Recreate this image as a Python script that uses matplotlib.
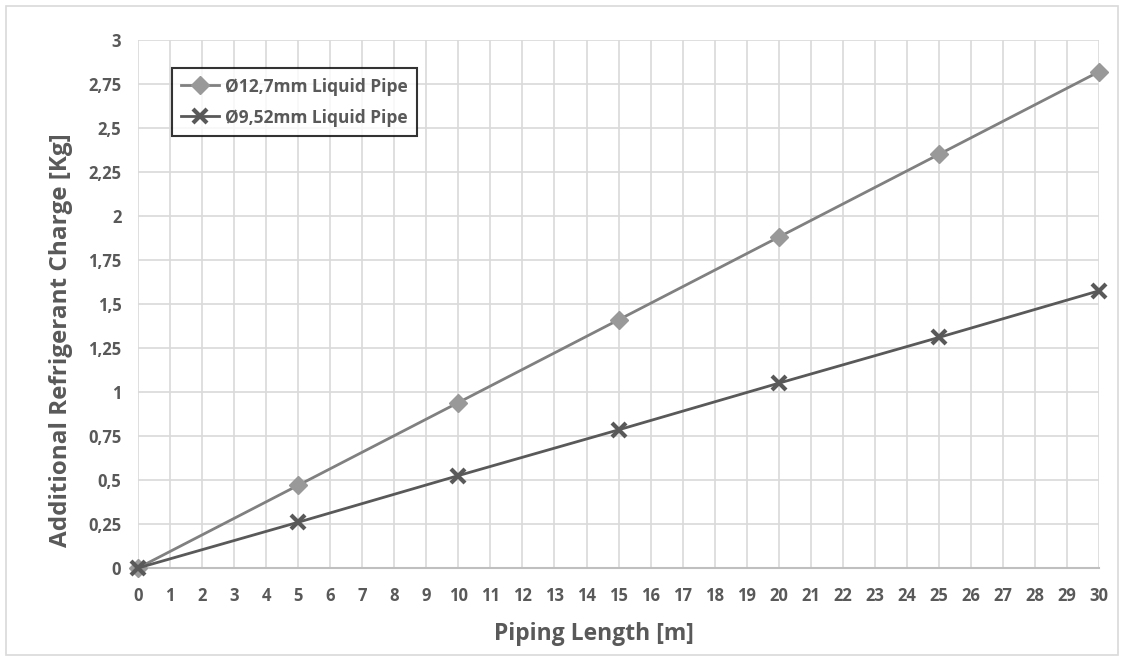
import matplotlib
matplotlib.use('Agg')
import matplotlib.pyplot as plt
from matplotlib.patches import Rectangle

# data
length_m = [0, 5, 10, 15, 20, 25, 30]
pipe_127 = [0, 0.47, 0.94, 1.41, 1.88, 2.35, 2.82]
pipe_952 = [0, 0.26, 0.525, 0.785, 1.05, 1.31, 1.575]
y_ticks = [0, 0.25, 0.5, 0.75, 1, 1.25, 1.5, 1.75, 2, 2.25, 2.5, 2.75, 3]
y_tick_labels = ['0', '0,25', '0,5', '0,75', '1', '1,25', '1,5', '1,75',
                 '2', '2,25', '2,5', '2,75', '3']

plt.rcParams['font.family'] = ['Open Sans', 'DejaVu Sans']
text_col = '#595959'

fig = plt.figure(figsize=(11.24, 6.61), dpi=100, facecolor='#ffffff')
ax = fig.add_axes([0.1228, 0.1407, 0.855, 0.7988])

# outer chart border
fig.patches.append(Rectangle((6 / 1124, 6 / 661), 1112 / 1124, 649 / 661,
                             transform=fig.transFigure, fill=False,
                             edgecolor='#d9d9d9', linewidth=1.2))

ax.plot(length_m, pipe_127, '-', color='#808080', lw=2,
        marker='D', ms=9, mfc='#999999', mec='#999999',
        label='Ø12,7mm Liquid Pipe', zorder=3, clip_on=False)
ax.plot(length_m, pipe_952, '-', color='#595959', lw=2,
        marker='x', ms=10, mew=3, mec='#595959',
        label='Ø9,52mm Liquid Pipe', zorder=4, clip_on=False)

ax.set_xlim(0, 30)
ax.set_ylim(0, 3)
ax.set_xticks(range(31))
ax.set_yticks(y_ticks)
ax.set_yticklabels(y_tick_labels)
ax.grid(True, color='#d9d9d9', lw=1.2)
ax.set_axisbelow(True)
for s in ['top', 'right', 'left']:
    ax.spines[s].set_visible(False)
ax.spines['bottom'].set_color('#bfbfbf')
ax.spines['bottom'].set_linewidth(1.5)
ax.tick_params(axis='x', length=0, labelsize=12, labelcolor=text_col, pad=14)
ax.tick_params(axis='y', length=0, labelsize=12, labelcolor=text_col, pad=12)
for tx in ax.get_xticklabels() + ax.get_yticklabels():
    tx.set_fontweight('bold')

ax.set_xlabel('Piping Length [m]', fontsize=16.5, fontweight='bold',
              color=text_col)
ax.set_ylabel('Additional Refrigerant Charge [Kg]', fontsize=17.5,
              fontweight='bold', color=text_col)
# titles sit a little off-centre in the original
ax.xaxis.set_label_coords(0.4745, -0.103)
ax.yaxis.set_label_coords(-0.068, 0.432)

leg = ax.legend(loc='upper left', bbox_to_anchor=(0.035, 0.947),
                frameon=True, fancybox=False, edgecolor='black',
                prop={'weight': 'bold', 'size': 12.5}, labelcolor=text_col,
                handlelength=2.2, handletextpad=0.3, borderpad=0.55,
                labelspacing=0.75, borderaxespad=0)
leg.get_frame().set_linewidth(1.5)

fig.savefig('out.png', dpi=100)
